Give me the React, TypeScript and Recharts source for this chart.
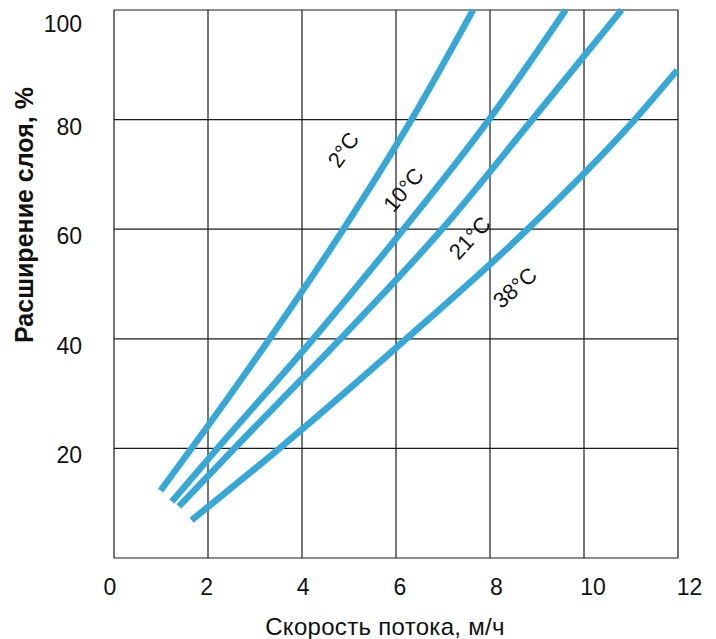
import { LineChart, Line, XAxis, YAxis, CartesianGrid, ReferenceDot } from 'recharts';

// flow speed (m/h) vs bed expansion (%), one pair of arrays per temperature
const speed2 = [0.99, 1.65, 3.31, 4.88, 6.33, 7.64];
const expansion2 = [12.3, 20, 40, 60, 80, 100];
const speed10 = [1.23, 2.2, 4.24, 6.16, 7.98, 9.61];
const expansion10 = [10.3, 20, 40, 60, 80, 100];
const speed21 = [1.38, 2.56, 4.82, 6.98, 8.9, 10.8];
const expansion21 = [9.4, 20, 40, 60, 80, 100];
const speed38 = [1.65, 3.52, 6.22, 8.8, 11.08, 11.98];
const expansion38 = [6.9, 20, 40, 60, 80, 89];

const xTicks = [0, 2, 4, 6, 8, 10, 12];
const yTicks = [0, 20, 40, 60, 80, 100];

const curveLabels = ['2°C', '10°C', '21°C', '38°C'];
const labelSpeed = [4.88, 6.16, 7.57, 8.53];
const labelExpansion = [74.5, 67.2, 58.4, 49.3];
const labelAngle = [-55, -50, -47, -41];

const FONT = '"Liberation Sans", Arial, Helvetica, sans-serif';
const BLUE = '#35a8da';

const toPoints = (xs: number[], ys: number[]) => xs.map((x, i) => ({ x, y: ys[i] }));

const series = [
  toPoints(speed2, expansion2),
  toPoints(speed10, expansion10),
  toPoints(speed21, expansion21),
  toPoints(speed38, expansion38),
];

const XTick = (props: any) => {
  const { x, y, payload } = props;
  const shift = payload.value * 1.3 - 4;
  return (
    <text x={x + shift} y={y + 29} textAnchor="middle" fontSize={23} fontFamily={FONT} fill="#111">
      {payload.value}
    </text>
  );
};

const YTick = (props: any) => {
  const { x, y, payload } = props;
  if (payload.value === 0) return null;
  return (
    <text x={x - 24} y={y + 15} textAnchor="end" fontSize={23} fontFamily={FONT} fill="#111">
      {payload.value}
    </text>
  );
};

export default function App() {
  return (
    <div style={{ width: 700, height: 631, background: '#fff' }}>
      <LineChart
        width={700}
        height={631}
        margin={{ top: 2, right: 30, left: 0, bottom: 21 }}
        style={{ overflow: 'visible' }}
      >
        <CartesianGrid stroke="#1a1a1a" strokeWidth={1.2} />
        <XAxis
          type="number"
          dataKey="x"
          domain={[0, 12]}
          ticks={xTicks}
          tick={<XTick />}
          tickLine={false}
          axisLine={false}
          height={60}
          label={{
            content: () => (
              <text x={377} y={627} textAnchor="middle" fontSize={24} letterSpacing={0.3} fontFamily={FONT} fill="#111">
                Скорость потока, м/ч
              </text>
            ),
          }}
        />
        <YAxis
          type="number"
          dataKey="y"
          domain={[0, 100]}
          ticks={yTicks}
          tick={<YTick />}
          tickLine={false}
          axisLine={false}
          width={106}
          label={{
            content: () => (
              <text
                x={25}
                y={207}
                textAnchor="middle"
                fontSize={25}
                fontWeight="bold"
                fontFamily={FONT}
                fill="#111"
                transform="rotate(-90 25 207)"
              >
                Расширение слоя, %
              </text>
            ),
          }}
        />
        {series.map((data, i) => (
          <Line
            key={curveLabels[i]}
            data={data}
            dataKey="y"
            type="monotoneX"
            stroke={BLUE}
            strokeWidth={6.5}
            dot={false}
            isAnimationActive={false}
          />
        ))}
        {curveLabels.map((text, i) => (
          <ReferenceDot
            key={text}
            x={labelSpeed[i]}
            y={labelExpansion[i]}
            r={0}
            shape={(p: any) => (
              <text
                x={p.cx}
                y={p.cy}
                textAnchor="middle"
                dominantBaseline="central"
                fontSize={22}
                fontFamily={FONT}
                fill="#111"
                transform={`rotate(${labelAngle[i]} ${p.cx} ${p.cy})`}
              >
                {text}
              </text>
            )}
          />
        ))}
      </LineChart>
    </div>
  );
}
